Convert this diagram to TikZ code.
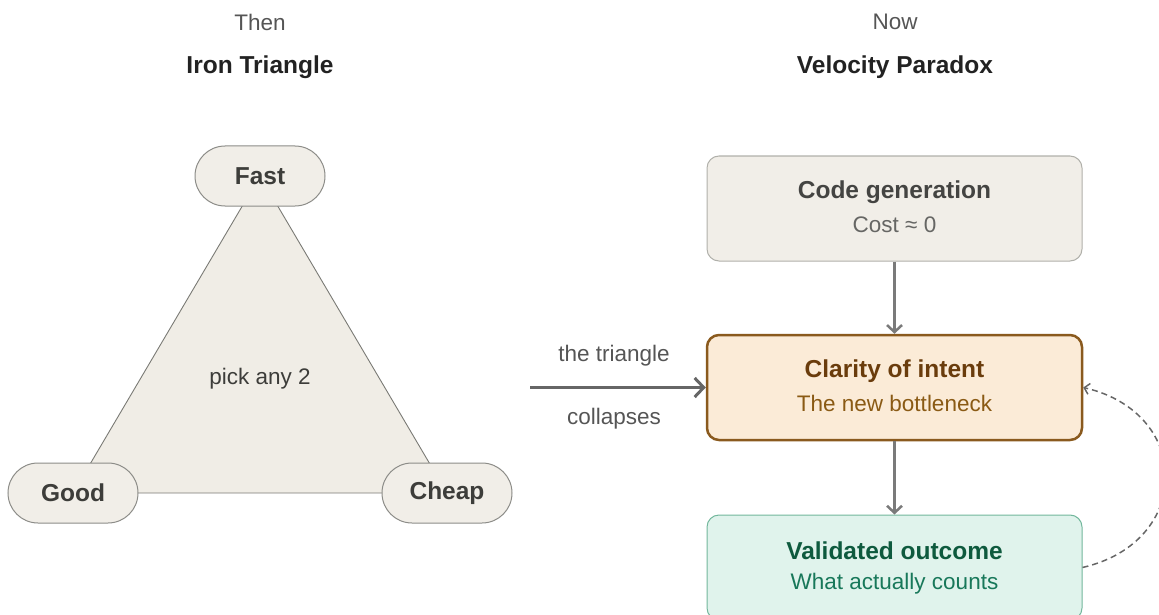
\documentclass[tikz,border=0pt]{standalone}
\usepackage{fontspec}
\setmainfont{Liberation Sans}
\usetikzlibrary{arrows.meta,shapes.misc}
\definecolor{ink}{HTML}{222222}
\definecolor{muted}{HTML}{555555}
\definecolor{pillfill}{HTML}{F1EEE8}
\definecolor{pilldraw}{HTML}{8C8C88}
\definecolor{pilltext}{HTML}{3D3D3A}
\definecolor{trifill}{HTML}{F0EDE6}
\definecolor{tridraw}{HTML}{7A7A75}
\definecolor{cgdraw}{HTML}{B0B0AA}
\definecolor{cgtitle}{HTML}{444442}
\definecolor{cgsub}{HTML}{666664}
\definecolor{cifill}{HTML}{FBEBD7}
\definecolor{cidraw}{HTML}{8A5A1E}
\definecolor{cititle}{HTML}{6A3C0C}
\definecolor{cisub}{HTML}{8A5A14}
\definecolor{vafill}{HTML}{E0F3EC}
\definecolor{vadraw}{HTML}{72B79C}
\definecolor{vatitle}{HTML}{0E5A3E}
\definecolor{vasub}{HTML}{18785A}
\definecolor{arrowgray}{HTML}{7A7A7A}
\definecolor{arrowdark}{HTML}{666666}
\pgfdeclarelayer{background}
\pgfsetlayers{background,main}
\newcommand{\bigbold}{\fontsize{24.5}{28}\selectfont\bfseries}
\newcommand{\regtext}{\fontsize{22.5}{26}\selectfont}
\begin{document}
\begin{tikzpicture}[x=1pt,y=-1pt,
  pill/.style={rounded rectangle, draw=pilldraw, fill=pillfill, line width=1pt,
    minimum width=130pt, minimum height=60pt, inner sep=0pt,
    text=pilltext, font=\bigbold},
  box/.style={rectangle, rounded corners=12pt, minimum width=375pt,
    minimum height=105pt, inner sep=0pt},
  heading/.style={font=\bigbold, text=ink, inner sep=0pt},
  small/.style={font=\regtext, text=muted, inner sep=0pt},
  flow/.style={draw=arrowgray, line width=2.5pt,
    -{Straight Barb[length=7pt,width=15pt]}},
]
\useasboundingbox (0,0) rectangle (1159,615);
\clip (0,0) rectangle (1159,615);

% headings
\node[small] (then) at (260,22) {Then};
\node[heading] (iron) at (260,67) {Iron Triangle};
\node[small] (now) at (895,22) {Now};
\node[heading] (velo) at (895,67) {Velocity Paradox};

% triangle
\node[pill] (fast) at (260,176) {Fast};
\node[pill] (good) at (73,493) {Good};
\node[pill] (cheap) at (447,493) {Cheap};
\begin{pgfonlayer}{background}
\filldraw[fill=trifill, draw=tridraw, line width=0.9pt]
  (fast.center) -- (cheap.center) -- (good.center) -- cycle;
\end{pgfonlayer}
\node[small, text=pilltext] (pick) at (260,379) {pick any 2};

% collapse arrow
\coordinate (arrstart) at (530,387.5);
\node[small] (lab1) at (614,356) {the triangle};
\node[small] (lab2) at (614,419) {collapses};

% right column boxes
\node[box, fill=pillfill, draw=cgdraw, line width=1pt] (cg) at (894.5,208.5) {};
\node[heading, text=cgtitle] (cgt) at ([yshift=16pt]cg.center) {Code generation};
\node[small, text=cgsub] (cgs) at ([yshift=-16pt]cg.center) {Cost ≈ 0};

\node[box, fill=cifill, draw=cidraw, line width=2.5pt] (ci) at (894.5,387.5) {};
\node[heading, text=cititle] (cit) at ([yshift=16pt]ci.center) {Clarity of intent};
\node[small, text=cisub] (cis) at ([yshift=-16pt]ci.center) {The new bottleneck};

\node[box, fill=vafill, draw=vadraw, line width=1pt] (va) at (894.5,567.5) {};
\node[heading, text=vatitle] (vat) at ([yshift=17pt]va.center) {Validated outcome};
\node[small, text=vasub] (vas) at ([yshift=-16pt]va.center) {What actually counts};

% connectors
\draw[draw=arrowdark, line width=3pt, -{Straight Barb[length=9pt,width=19pt]}]
  (arrstart) -- (ci.west);
\draw[flow] (cg.south) -- (ci.north);
\draw[flow] (ci.south) -- (va.north);
\draw[draw=arrowdark, line width=1.5pt, dash pattern=on 6pt off 4pt,
  -{Straight Barb[length=5pt,width=11pt]}]
  (va.east) .. controls (1193,542) and (1193,413) .. (ci.east);
\end{tikzpicture}
\end{document}
